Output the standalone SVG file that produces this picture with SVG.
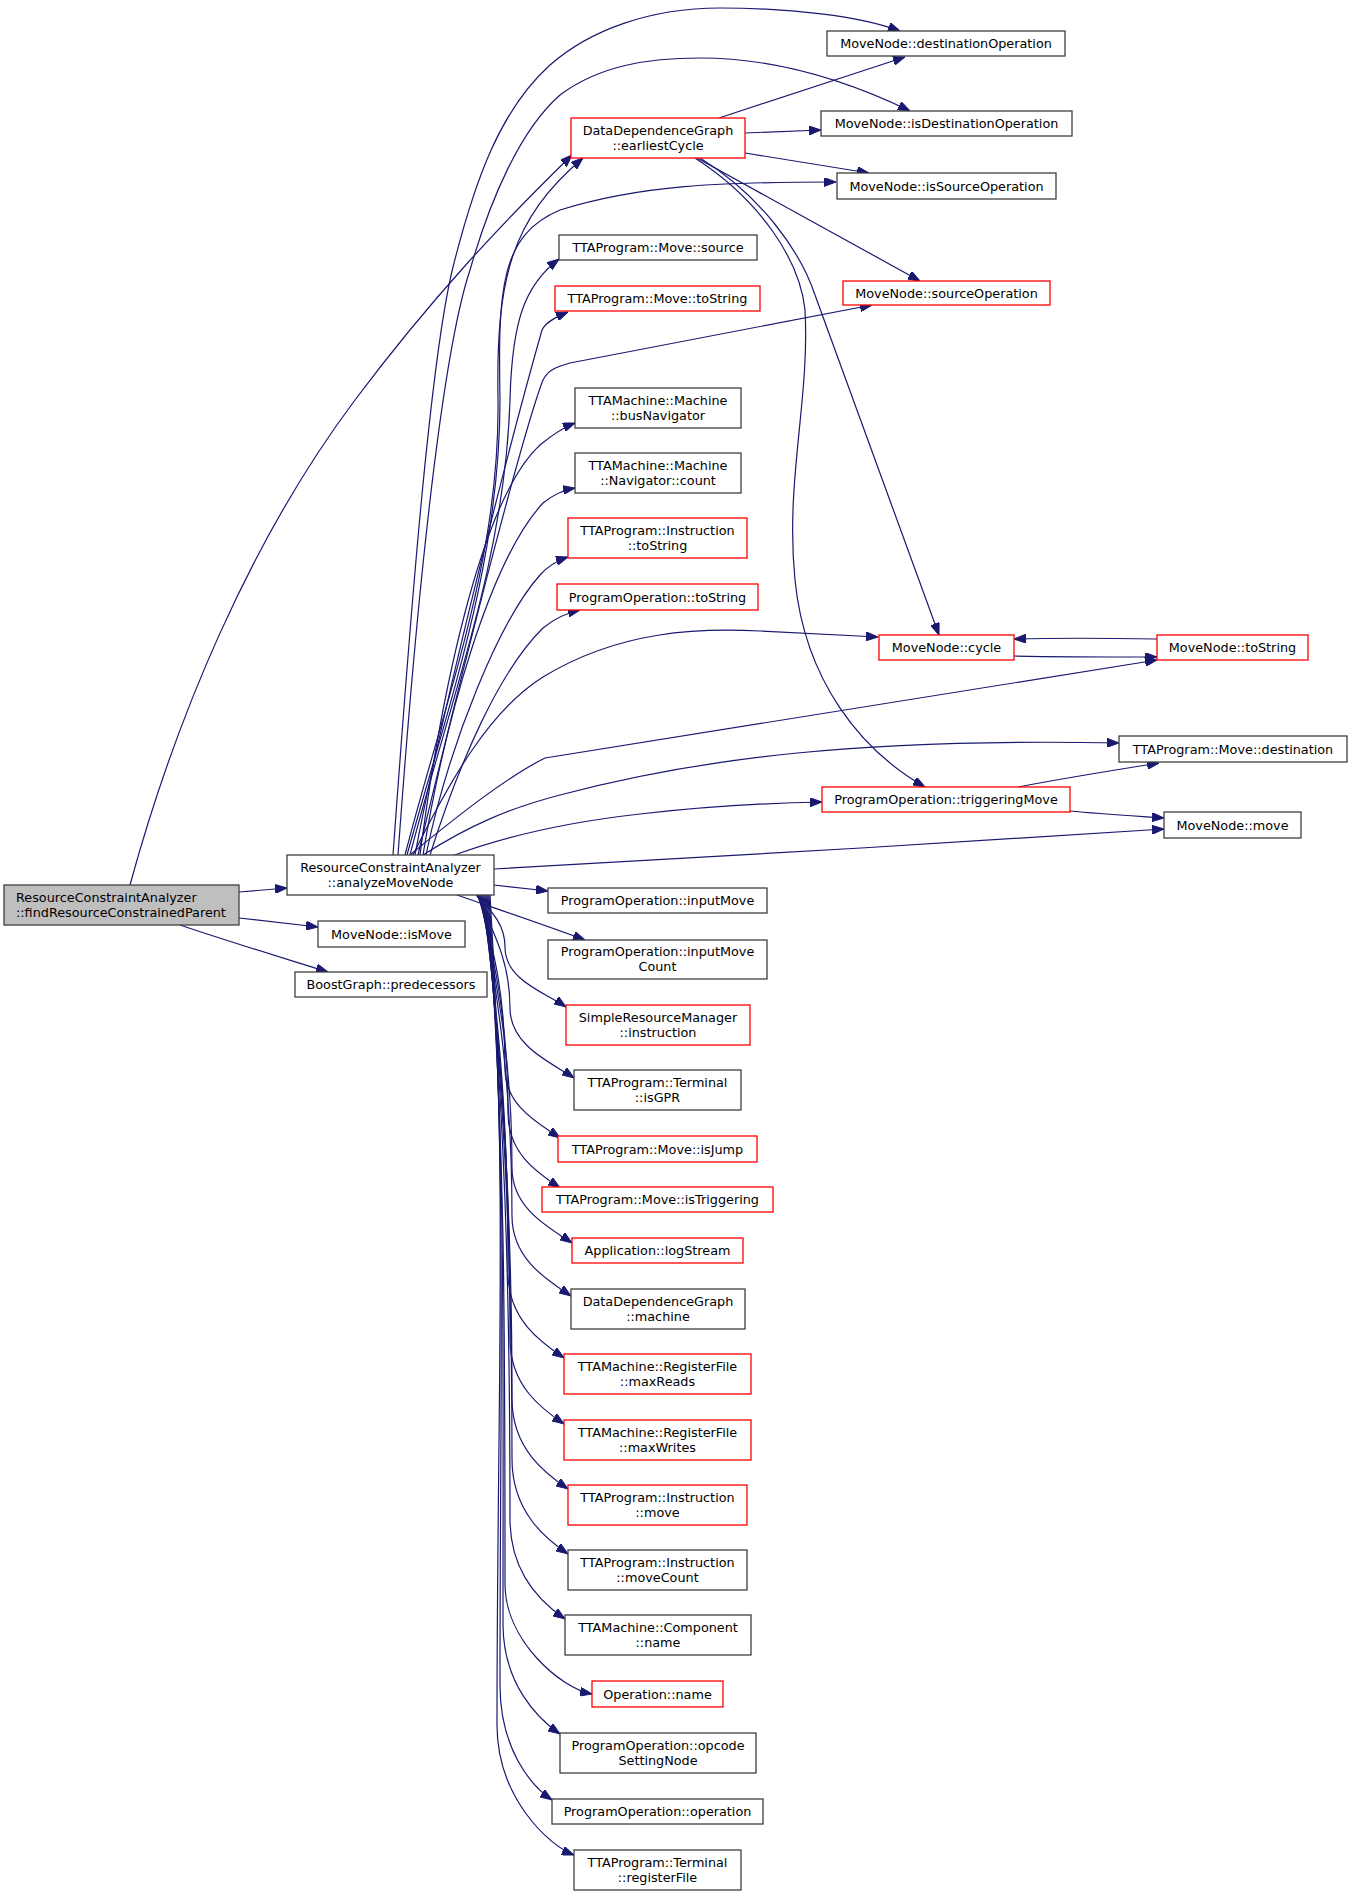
<svg xmlns="http://www.w3.org/2000/svg" width="1352" height="1896" viewBox="0 0 1352 1896">
<style>
.n rect{fill:#fff;stroke:#404040;stroke-width:1.3}
.n.r rect{stroke:#ff0000}
.n.root rect{fill:#bfbfbf}
text{font-family:"DejaVu Sans","Liberation Sans",sans-serif;font-size:12.8px;fill:#000;text-anchor:middle}
.root text{text-anchor:start}
#edges path{fill:none;stroke:#191970;stroke-width:1.2;marker-end:url(#ah)}
</style>
<defs>
<marker id="ah" viewBox="0 0 12 9" refX="12" refY="4.5" markerWidth="12" markerHeight="9" markerUnits="userSpaceOnUse" orient="auto">
<path d="M0,0 L12,4.5 L0,9 z" fill="#191970" stroke="#191970" stroke-width="1"/>
</marker>
</defs>
<rect x="0" y="0" width="1352" height="1896" fill="#ffffff"/>
<g id="edges">
<path d="M239,892 L287,888"/>
<path d="M239,918 L318,927"/>
<path d="M180,925 C230,942 280,957 328,972"/>
<path d="M130,885 C175,720 250,540 355,400 C430,300 500,225 572,155"/>
<path d="M393,855 C410,620 430,360 453,267 C475,180 500,110 550,65 C590,30 650,8 720,8 C790,8 860,16 900,31"/>
<path d="M398,855 C415,620 440,360 470,270 C490,200 520,130 560,95 C600,65 650,58 700,58 C780,58 850,82 910,111"/>
<path d="M405,855 C445,700 500,560 498,400 C496,280 510,220 583,158"/>
<path d="M407,855 C450,700 500,560 500,400 C498,290 500,235 560,210 C640,185 720,182 836,182"/>
<path d="M410,855 C450,700 505,560 510,400 C512,320 525,285 559,259"/>
<path d="M415,855 C440,720 505,460 542,330 C546,322 556,317 568,312"/>
<path d="M418,855 C455,700 520,440 543,380 C548,370 556,367 570,363 L872,305"/>
<path d="M420,855 C440,700 480,500 540,445 C552,435 562,428 575,423"/>
<path d="M423,855 C445,720 490,560 543,503 C553,495 563,490 575,488"/>
<path d="M426,855 C450,740 500,620 540,575 C548,566 556,561 568,557"/>
<path d="M430,855 C460,760 500,670 543,628 C555,618 566,613 580,610"/>
<path d="M413,855 C450,780 490,710 543,677 C620,630 700,628 760,631 C800,633 840,635 878,637"/>
<path d="M410,855 C455,818 505,778 545,758 L1157,660"/>
<path d="M423,855 C470,825 510,808 560,795 C700,758 860,738 1119,743"/>
<path d="M452,856 C500,838 560,823 640,814 C710,806 770,803 822,802"/>
<path d="M494,869 C700,858 950,843 1164,829"/>
<path d="M494,885 L548,891"/>
<path d="M457,895 C500,910 545,925 585,940"/>
<path d="M476,895 C494,913 505,926 505,947 C505,980 544,992 566,1007"/>
<path d="M477,895 C495,935 510,963 510,1008 C510,1046 552,1063 574,1078"/>
<path d="M478,895 C496,956 505,999 505,1068 C505,1106 538,1123 560,1138"/>
<path d="M479,895 C497,971 508,1026 508,1113 C508,1154 538,1173 560,1188"/>
<path d="M480,895 C498,991 512,1059 512,1168 C512,1209 550,1228 572,1243"/>
<path d="M481,895 C499,1007 512,1088 512,1216 C512,1260 549,1281 571,1296"/>
<path d="M482,895 C500,1027 508,1122 508,1273 C508,1320 542,1343 564,1358"/>
<path d="M483,895 C501,1050 510,1161 510,1339 C510,1386 542,1409 564,1424"/>
<path d="M484,895 C502,1071 512,1197 512,1399 C512,1449 546,1474 568,1489"/>
<path d="M485,895 C503,1092 512,1233 512,1459 C512,1512 546,1539 568,1554"/>
<path d="M486,895 C504,1113 510,1269 510,1519 C510,1574 543,1604 565,1619"/>
<path d="M487,895 C505,1136 505,1308 505,1584 C505,1640 560,1688 592,1694"/>
<path d="M488,895 C506,1150 503,1332 503,1624 C503,1684 538,1719 560,1734"/>
<path d="M489,895 C507,1171 500,1369 500,1685 C500,1748 530,1785 552,1800"/>
<path d="M490,895 C508,1186 497,1393 497,1725 C497,1797 548,1845 574,1855"/>
<path d="M719,118 L905,57"/>
<path d="M745,133 L821,130"/>
<path d="M745,153 L869,173"/>
<path d="M697,158 L920,281"/>
<path d="M700,158 C760,195 800,250 815,295 L939,635"/>
<path d="M695,158 C760,200 800,260 805,310 C810,400 785,480 795,580 C805,680 860,750 925,787"/>
<path d="M1157,639 C1100,638 1050,638 1014,639"/>
<path d="M1014,656 C1060,657 1110,657 1157,657"/>
<path d="M1018,787 C1065,778 1115,770 1159,763"/>
<path d="M1070,811 C1100,814 1135,816 1164,818"/>
</g>
<g id="n0" class="n root"><rect x="4" y="885" width="235" height="40"/><text x="16" y="901.5">ResourceConstraintAnalyzer</text><text x="16" y="916.5">::findResourceConstrainedParent</text></g>
<g id="n1" class="n"><rect x="287" y="855" width="207" height="40"/><text x="390.5" y="871.5">ResourceConstraintAnalyzer</text><text x="390.5" y="886.5">::analyzeMoveNode</text></g>
<g id="n2" class="n"><rect x="318" y="921" width="147" height="26"/><text x="391.5" y="938.5">MoveNode::isMove</text></g>
<g id="n3" class="n"><rect x="295" y="972" width="192" height="25"/><text x="391" y="989">BoostGraph::predecessors</text></g>
<g id="n4" class="n"><rect x="827" y="31" width="238" height="25"/><text x="946" y="48">MoveNode::destinationOperation</text></g>
<g id="n5" class="n"><rect x="821" y="111" width="251" height="25"/><text x="946.5" y="128">MoveNode::isDestinationOperation</text></g>
<g id="n6" class="n r"><rect x="571" y="118" width="174" height="40"/><text x="658" y="134.5">DataDependenceGraph</text><text x="658" y="149.5">::earliestCycle</text></g>
<g id="n7" class="n"><rect x="837" y="173" width="219" height="26"/><text x="946.5" y="190.5">MoveNode::isSourceOperation</text></g>
<g id="n8" class="n"><rect x="559" y="235" width="198" height="25"/><text x="658" y="252">TTAProgram::Move::source</text></g>
<g id="n9" class="n r"><rect x="555" y="286" width="205" height="25"/><text x="657.5" y="303">TTAProgram::Move::toString</text></g>
<g id="n10" class="n r"><rect x="843" y="281" width="207" height="24"/><text x="946.5" y="297.5">MoveNode::sourceOperation</text></g>
<g id="n11" class="n"><rect x="575" y="388" width="166" height="40"/><text x="658" y="404.5">TTAMachine::Machine</text><text x="658" y="419.5">::busNavigator</text></g>
<g id="n12" class="n"><rect x="575" y="453" width="166" height="40"/><text x="658" y="469.5">TTAMachine::Machine</text><text x="658" y="484.5">::Navigator::count</text></g>
<g id="n13" class="n r"><rect x="568" y="518" width="179" height="40"/><text x="657.5" y="534.5">TTAProgram::Instruction</text><text x="657.5" y="549.5">::toString</text></g>
<g id="n14" class="n r"><rect x="557" y="584" width="201" height="26"/><text x="657.5" y="601.5">ProgramOperation::toString</text></g>
<g id="n15" class="n r"><rect x="879" y="635" width="135" height="25"/><text x="946.5" y="652">MoveNode::cycle</text></g>
<g id="n16" class="n r"><rect x="1157" y="635" width="151" height="25"/><text x="1232.5" y="652">MoveNode::toString</text></g>
<g id="n17" class="n"><rect x="1119" y="736" width="228" height="26"/><text x="1233" y="753.5">TTAProgram::Move::destination</text></g>
<g id="n18" class="n r"><rect x="822" y="787" width="248" height="25"/><text x="946" y="804">ProgramOperation::triggeringMove</text></g>
<g id="n19" class="n"><rect x="1164" y="812" width="137" height="26"/><text x="1232.5" y="829.5">MoveNode::move</text></g>
<g id="n20" class="n"><rect x="548" y="888" width="219" height="25"/><text x="657.5" y="905">ProgramOperation::inputMove</text></g>
<g id="n21" class="n"><rect x="548" y="940" width="219" height="39"/><text x="657.5" y="956">ProgramOperation::inputMove</text><text x="657.5" y="971">Count</text></g>
<g id="n22" class="n r"><rect x="566" y="1005" width="184" height="40"/><text x="658" y="1021.5">SimpleResourceManager</text><text x="658" y="1036.5">::instruction</text></g>
<g id="n23" class="n"><rect x="574" y="1070" width="167" height="40"/><text x="657.5" y="1086.5">TTAProgram::Terminal</text><text x="657.5" y="1101.5">::isGPR</text></g>
<g id="n24" class="n r"><rect x="558" y="1136" width="199" height="26"/><text x="657.5" y="1153.5">TTAProgram::Move::isJump</text></g>
<g id="n25" class="n r"><rect x="542" y="1187" width="231" height="25"/><text x="657.5" y="1204">TTAProgram::Move::isTriggering</text></g>
<g id="n26" class="n r"><rect x="572" y="1238" width="171" height="25"/><text x="657.5" y="1255">Application::logStream</text></g>
<g id="n27" class="n"><rect x="571" y="1289" width="174" height="40"/><text x="658" y="1305.5">DataDependenceGraph</text><text x="658" y="1320.5">::machine</text></g>
<g id="n28" class="n r"><rect x="564" y="1354" width="187" height="40"/><text x="657.5" y="1370.5">TTAMachine::RegisterFile</text><text x="657.5" y="1385.5">::maxReads</text></g>
<g id="n29" class="n r"><rect x="564" y="1420" width="187" height="40"/><text x="657.5" y="1436.5">TTAMachine::RegisterFile</text><text x="657.5" y="1451.5">::maxWrites</text></g>
<g id="n30" class="n r"><rect x="568" y="1485" width="179" height="40"/><text x="657.5" y="1501.5">TTAProgram::Instruction</text><text x="657.5" y="1516.5">::move</text></g>
<g id="n31" class="n"><rect x="568" y="1550" width="179" height="40"/><text x="657.5" y="1566.5">TTAProgram::Instruction</text><text x="657.5" y="1581.5">::moveCount</text></g>
<g id="n32" class="n"><rect x="565" y="1615" width="186" height="40"/><text x="658" y="1631.5">TTAMachine::Component</text><text x="658" y="1646.5">::name</text></g>
<g id="n33" class="n r"><rect x="592" y="1681" width="131" height="26"/><text x="657.5" y="1698.5">Operation::name</text></g>
<g id="n34" class="n"><rect x="560" y="1733" width="196" height="40"/><text x="658" y="1749.5">ProgramOperation::opcode</text><text x="658" y="1764.5">SettingNode</text></g>
<g id="n35" class="n"><rect x="552" y="1799" width="211" height="25"/><text x="657.5" y="1816">ProgramOperation::operation</text></g>
<g id="n36" class="n"><rect x="574" y="1850" width="167" height="40"/><text x="657.5" y="1866.5">TTAProgram::Terminal</text><text x="657.5" y="1881.5">::registerFile</text></g>
</svg>
